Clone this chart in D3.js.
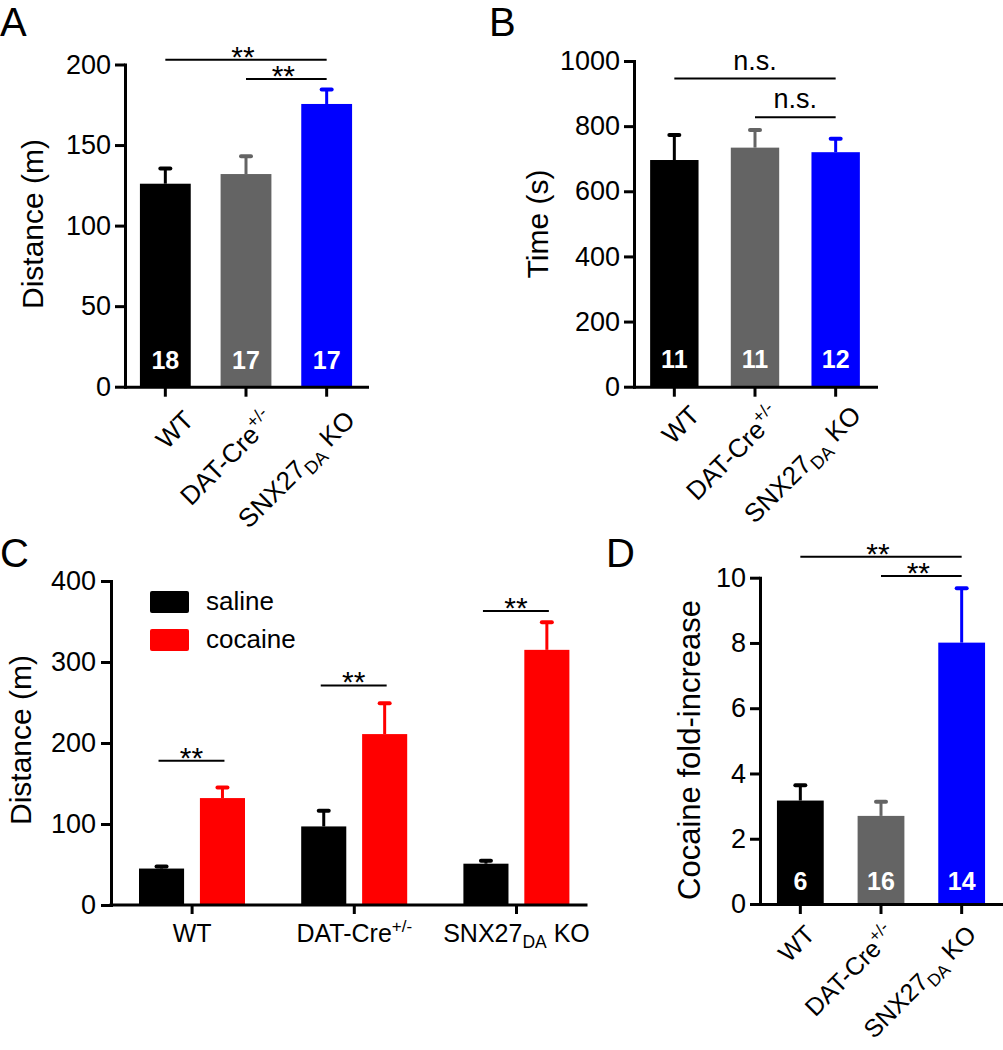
<!DOCTYPE html>
<html><head><meta charset="utf-8">
<script src="https://cdn.jsdelivr.net/npm/d3@7"></script>
<style>
body{margin:0;background:#fff}
svg text{font-family:Arial,"Liberation Sans",Helvetica,sans-serif}
</style>
</head><body>
<svg id="fig" width="1003" height="1050" font-family="Arial, 'Liberation Sans', sans-serif"></svg>
<script>
// ---------- data ----------
const categories = ["WT", "DAT-Cre+/-", "SNX27DA KO"];
const labelMain = ["WT", "DAT-Cre", "SNX27"];
const labelSup  = ["", "+/-", ""];
const labelSub  = ["", "", "DA"];
const labelTail = ["", "", " KO"];
const barColors = ["#000000", "#646464", "#0000ff"];

// Panel A: open-field distance
const distA = [126, 132, 175.5];
const semA  = [9.5, 11, 9];
const nA    = [18, 17, 17];
const ticksA = [0, 50, 100, 150, 200];
const sigPairsA = [[0, 2], [1, 2]];
const sigLevelsA = [203, 191];
const sigTextA = ["**", "**"];

// Panel B: time
const timeB = [696, 734, 720];
const semB  = [77, 54, 41];
const nB    = [11, 11, 12];
const ticksB = [0, 200, 400, 600, 800, 1000];
const sigPairsB = [[0, 2], [1, 2]];
const sigLevelsB = [946, 827];
const sigTextB = ["n.s.", "n.s."];

// Panel C: saline vs cocaine distance
const treatments = ["saline", "cocaine"];
const treatColors = ["#000000", "#ff0000"];
const salineC  = [45, 97, 51];
const salineSemC = [2.5, 19.5, 3.5];
const cocaineC = [132, 211, 315];
const cocaineSemC = [13, 38, 34];
const ticksC = [0, 100, 200, 300, 400];
const sigLevelsC = [178, 271, 363];

// Panel D: cocaine fold increase
const foldD = [3.17, 2.70, 8.01];
const semD  = [0.47, 0.43, 1.67];
const nD    = [6, 16, 14];
const ticksD = [0, 2, 4, 6, 8, 10];
const sigPairsD = [[0, 2], [1, 2]];
const sigLevelsD = [10.64, 10.05];
const sigTextD = ["**", "**"];

// ---------- drawing ----------
const svg = d3.select("#fig");
const TICK_FS = 27;

function styleAxis(ax, fs) {
  ax.attr("font-family", null);
  ax.select(".domain").attr("stroke", "#000").attr("stroke-width", 3).attr("stroke-linecap", "square");
  ax.selectAll(".tick line").attr("stroke", "#000").attr("stroke-width", 3);
  ax.selectAll(".tick text").attr("fill", "#000").attr("font-size", fs);
}

function addLabel(sel, i, fs) {
  sel.append("tspan").text(labelMain[i]);
  if (labelSup[i]) sel.append("tspan").attr("font-size", fs * 0.68).attr("dy", -fs * 0.42).text(labelSup[i]);
  if (labelSub[i]) {
    sel.append("tspan").attr("font-size", fs * 0.7).attr("dy", fs * 0.25).text(labelSub[i]);
    sel.append("tspan").attr("dy", -fs * 0.25).text(labelTail[i]);
  }
}

function barPanel(o) {
  const g = svg.append("g");
  const x = d3.scaleBand().domain(categories).range([o.x0, o.x1]).paddingInner(o.pad).paddingOuter(o.pad / 2);
  const y = d3.scaleLinear().domain([0, o.ymax]).range([o.yb, o.yt]);
  const cx = i => x(categories[i]) + x.bandwidth() / 2;

  // error bars (upper only)
  o.values.forEach((v, i) => {
    g.append("line").attr("x1", cx(i)).attr("x2", cx(i)).attr("y1", y(v)).attr("y2", y(v + o.sem[i]))
      .attr("stroke", barColors[i]).attr("stroke-width", 3);
    g.append("line").attr("x1", cx(i) - 5).attr("x2", cx(i) + 5).attr("y1", y(v + o.sem[i])).attr("y2", y(v + o.sem[i]))
      .attr("stroke", barColors[i]).attr("stroke-width", 4).attr("stroke-linecap", "round");
  });
  // bars
  g.selectAll("rect.bar").data(o.values).join("rect").attr("class", "bar")
    .attr("x", (d, i) => x(categories[i])).attr("y", d => y(d))
    .attr("width", x.bandwidth()).attr("height", d => y(0) - y(d))
    .attr("fill", (d, i) => barColors[i]);
  // n labels
  g.selectAll("text.n").data(o.n).join("text").attr("class", "n")
    .attr("x", (d, i) => cx(i)).attr("y", o.yb - o.nOff)
    .attr("text-anchor", "middle").attr("fill", "#fff").attr("font-weight", "bold").attr("font-size", 25)
    .text(d => d);
  // axes
  const ya = g.append("g").attr("transform", `translate(${o.x0},0)`)
    .call(d3.axisLeft(y).tickValues(o.ticks).tickFormat(d3.format("d")).tickSize(10).tickPadding(4).tickSizeOuter(0));
  styleAxis(ya, TICK_FS);
  const xa = g.append("g").attr("transform", `translate(0,${o.yb})`)
    .call(d3.axisBottom(x).tickSize(10).tickSizeOuter(0).tickFormat(""));
  styleAxis(xa, TICK_FS);
  // rotated category labels
  categories.forEach((c, i) => {
    const t = g.append("text").attr("text-anchor", "end").attr("font-size", o.lfs).attr("fill", "#000")
      .attr("transform", `translate(${cx(i) + o.ldx},${o.yb + o.ldy}) rotate(-45)`);
    addLabel(t, i, o.lfs);
  });
  // y title
  g.append("text").attr("transform", `translate(${o.tx},${o.ty}) rotate(-90)`)
    .attr("text-anchor", "middle").attr("font-size", o.tfs).attr("fill", "#000").text(o.title);
  // significance
  o.sigPairs.forEach((p, k) => {
    const ly = y(o.sigLevels[k]);
    g.append("line").attr("x1", cx(p[0])).attr("x2", cx(p[1])).attr("y1", ly).attr("y2", ly)
      .attr("stroke", "#000").attr("stroke-width", 2);
    const isStar = o.sigText[k] === "**";
    g.append("text").attr("x", (cx(p[0]) + cx(p[1])) / 2 - (isStar ? 3 : 0))
      .attr("y", isStar ? ly + 7 : ly - 9)
      .attr("text-anchor", "middle").attr("font-size", isStar ? 30 : 27).attr("fill", "#000").text(o.sigText[k]);
  });
  // panel letter
  g.append("text").attr("x", o.lx).attr("y", o.ly).attr("font-size", 40).attr("fill", "#000").text(o.letter);
}

barPanel({letter: "A", lx: 0, ly: 36, x0: 125, x1: 367, pad: 0.37, yb: 386.7, yt: 64.5, ymax: 200,
  values: distA, sem: semA, n: nA, ticks: ticksA, nOff: 18, ldx: 30, ldy: 35, lfs: 26,
  title: "Distance (m)", tfs: 30, tx: 43, ty: 224,
  sigPairs: sigPairsA, sigLevels: sigLevelsA, sigText: sigTextA});

barPanel({letter: "B", lx: 489, ly: 36, x0: 634, x1: 876, pad: 0.4, yb: 386.7, yt: 61, ymax: 1000,
  values: timeB, sem: semB, n: nB, ticks: ticksB, nOff: 19, ldx: 27, ldy: 30, lfs: 26,
  title: "Time (s)", tfs: 30, tx: 548, ty: 224,
  sigPairs: sigPairsB, sigLevels: sigLevelsB, sigText: sigTextB});

barPanel({letter: "D", lx: 606, ly: 567, x0: 760, x1: 1002, pad: 0.42, yb: 904, yt: 577.7, ymax: 10,
  values: foldD, sem: semD, n: nD, ticks: ticksD, nOff: 14, ldx: 16, ldy: 32, lfs: 25,
  title: "Cocaine fold-increase", tfs: 31, tx: 700, ty: 750,
  sigPairs: sigPairsD, sigLevels: sigLevelsD, sigText: sigTextD});

// ---------- Panel C (grouped) ----------
(function () {
  const g = svg.append("g");
  const x0 = d3.scaleBand().domain(categories).range([111, 597.6]).padding(0);
  const x1 = d3.scaleBand().domain(treatments).range([28, 134]).paddingInner(0.26).paddingOuter(0);
  const y = d3.scaleLinear().domain([0, 400]).range([905, 581]);
  const series = [
    {vals: salineC, sem: salineSemC},
    {vals: cocaineC, sem: cocaineSemC}
  ];
  const bx = (i, t) => x0(categories[i]) + x1(treatments[t]);
  const bc = (i, t) => bx(i, t) + x1.bandwidth() / 2;

  series.forEach((s, t) => {
    s.vals.forEach((v, i) => {
      g.append("line").attr("x1", bc(i, t)).attr("x2", bc(i, t)).attr("y1", y(v)).attr("y2", y(v + s.sem[i]))
        .attr("stroke", treatColors[t]).attr("stroke-width", 3);
      g.append("line").attr("x1", bc(i, t) - 5).attr("x2", bc(i, t) + 5).attr("y1", y(v + s.sem[i])).attr("y2", y(v + s.sem[i]))
        .attr("stroke", treatColors[t]).attr("stroke-width", 4).attr("stroke-linecap", "round");
    });
    g.selectAll(`rect.s${t}`).data(s.vals).join("rect").attr("class", `s${t}`)
      .attr("x", (d, i) => bx(i, t)).attr("y", d => y(d))
      .attr("width", x1.bandwidth()).attr("height", d => y(0) - y(d))
      .attr("fill", treatColors[t]);
  });

  const ya = g.append("g").attr("transform", "translate(111,0)")
    .call(d3.axisLeft(y).tickValues(ticksC).tickFormat(d3.format("d")).tickSize(10).tickPadding(5).tickSizeOuter(0));
  styleAxis(ya, TICK_FS);
  const xa = g.append("g").attr("transform", "translate(0,905)")
    .call(d3.axisBottom(x0).tickSize(9).tickSizeOuter(0).tickFormat(""));
  styleAxis(xa, TICK_FS);
  xa.select(".domain").attr("d", `M111,0H586`);

  categories.forEach((c, i) => {
    const t = g.append("text").attr("x", x0(c) + x0.bandwidth() / 2).attr("y", 942)
      .attr("text-anchor", "middle").attr("font-size", 25).attr("fill", "#000");
    addLabel(t, i, 25);
  });

  // significance
  sigLevelsC.forEach((lv, i) => {
    const ly = y(lv);
    const xa1 = bc(i, 0) - 3, xa2 = bc(i, 1) + 2;
    g.append("line").attr("x1", xa1).attr("x2", xa2).attr("y1", ly).attr("y2", ly)
      .attr("stroke", "#000").attr("stroke-width", 2);
    g.append("text").attr("x", (xa1 + xa2) / 2).attr("y", ly + 7).attr("text-anchor", "middle")
      .attr("font-size", 30).attr("fill", "#000").text("**");
  });

  // legend
  treatments.forEach((tr, t) => {
    g.append("rect").attr("x", 150).attr("y", 591 + t * 38).attr("width", 39).attr("height", 22)
      .attr("rx", 2).attr("fill", treatColors[t]);
    g.append("text").attr("x", 206).attr("y", 610 + t * 38).attr("font-size", 26).attr("fill", "#000").text(tr);
  });

  g.append("text").attr("transform", "translate(31,740) rotate(-90)").attr("text-anchor", "middle")
    .attr("font-size", 30).attr("fill", "#000").text("Distance (m)");
  g.append("text").attr("x", 0).attr("y", 567).attr("font-size", 40).attr("fill", "#000").text("C");
})();
</script>
</body></html>
